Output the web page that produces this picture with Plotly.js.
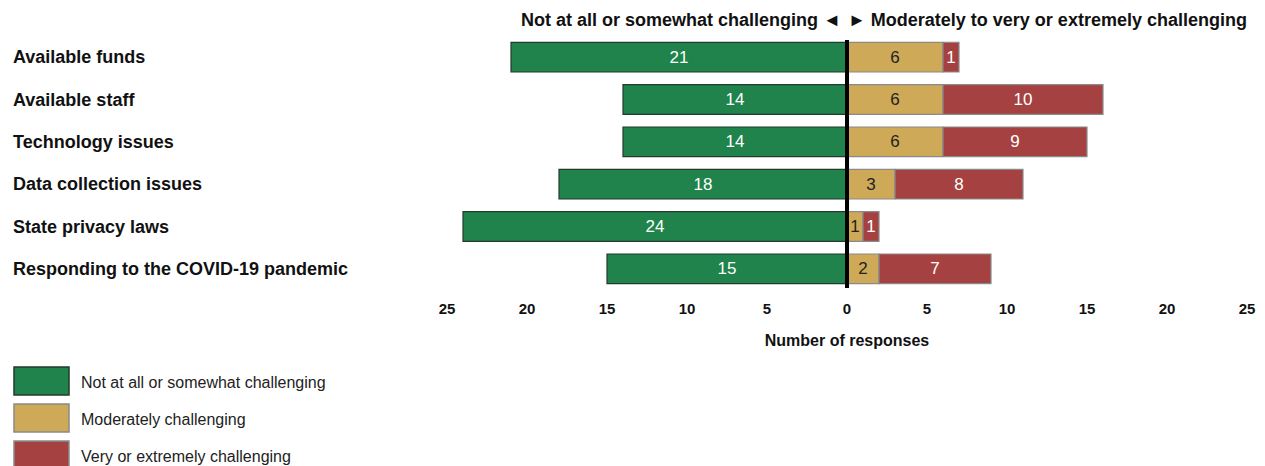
<!DOCTYPE html>
<html>
<head>
<meta charset="utf-8">
<script src="https://cdn.plot.ly/plotly-3.0.1.min.js"></script>
<style>html,body{margin:0;padding:0;background:#fff;}#chart{width:1265px;height:466px;}</style>
</head>
<body>
<div id="chart"></div>
<script>
const categories = ["Available funds", "Available staff", "Technology issues", "Data collection issues", "State privacy laws", "Responding to the COVID-19 pandemic"];
const notChallenging = [21, 14, 14, 18, 24, 15];
const moderately = [6, 6, 6, 3, 1, 2];
const veryExtremely = [1, 10, 9, 8, 1, 7];
const seriesNames = ["Not at all or somewhat challenging", "Moderately challenging", "Very or extremely challenging"];
const tickValues = [-25, -20, -15, -10, -5, 0, 5, 10, 15, 20, 25];
const tickLabels = ["25", "20", "15", "10", "5", "0", "5", "10", "15", "20", "25"];

const colors = ["#1f834b", "#cea957", "#a54241"];
const lineColors = ["#243a2c", "#8a8a8a", "#8a8a8a"];
const textColors = ["#ffffff", "#222222", "#ffffff"];
const narrow = "'Liberation Sans Narrow', 'Arial Narrow', Arial, sans-serif";
const sans = "'Liberation Sans', Arial, sans-serif";

const seriesVals = [notChallenging.map(v => -v), moderately, veryExtremely];
const seriesText = [notChallenging, moderately, veryExtremely];

const traces = seriesVals.map((vals, i) => ({
  type: 'bar', orientation: 'h', name: seriesNames[i],
  y: categories, x: vals,
  text: seriesText[i].map(String), textposition: 'inside', insidetextanchor: 'middle',
  constraintext: 'none', textangle: 0,
  insidetextfont: {family: narrow, size: 17, color: textColors[i]},
  marker: {color: colors[i], line: {color: lineColors[i], width: 1.2}},
  width: 0.7, hoverinfo: 'skip', showlegend: false
}));

const L = 447, R = 18, W = 1265;
const plotW = W - L - R;
const px = x => (x - L) / plotW;
const H = 466, T = 36, B = 176;
const plotH = H - T - B;
const py = y => (H - B - y) / plotH;

const annotations = categories.map(c => ({
  xref: 'paper', yref: 'y', x: px(11), y: c, xanchor: 'left', yanchor: 'middle',
  text: '<b>' + c + '</b>', showarrow: false, align: 'left',
  font: {family: sans, size: 18, color: '#111'}
}));
annotations.push({
  xref: 'x', yref: 'paper', x: 0, y: py(20), xshift: -4, xanchor: 'right', yanchor: 'middle',
  text: '<b>Not at all or somewhat challenging ◄</b>', showarrow: false,
  font: {family: narrow, size: 18, color: '#111'}
});
annotations.push({
  xref: 'x', yref: 'paper', x: 0, y: py(20), xshift: -1, xanchor: 'left', yanchor: 'middle',
  text: '<b>► Moderately to very or extremely challenging</b>', showarrow: false,
  font: {family: narrow, size: 18, color: '#111'}
});

const shapes = [{
  type: 'line', xref: 'x', yref: 'paper', x0: 0, x1: 0, y0: py(288), y1: py(40),
  line: {color: '#000', width: 4}
}];

// legend
const legTops = [367, 404, 441];
legTops.forEach((t, i) => {
  shapes.push({type: 'rect', xref: 'paper', yref: 'paper', x0: px(14), x1: px(69), y0: py(t), y1: py(t + 28),
    fillcolor: colors[i], line: {color: lineColors[i], width: 1.5}});
  annotations.push({xref: 'paper', yref: 'paper', x: px(79), y: py(t + 15), xanchor: 'left', yanchor: 'middle',
    text: seriesNames[i], showarrow: false, font: {family: sans, size: 16, color: '#222'}});
});

const layout = {
  width: W, height: H,
  margin: {l: L, r: R, t: T, b: B},
  barmode: 'relative',
  bargap: 0.3,
  paper_bgcolor: '#fff', plot_bgcolor: '#fff',
  showlegend: false,
  xaxis: {
    range: [-25, 25], tickvals: tickValues, ticktext: tickLabels,
    showgrid: false, zeroline: false, showline: false, ticks: '',
    ticklabelstandoff: 8,
    tickfont: {family: narrow, size: 15, color: '#111', weight: 'bold'},
    title: {text: '<b>Number of responses</b>', font: {family: narrow, size: 16, color: '#111'}, standoff: 18},
    fixedrange: true
  },
  yaxis: {
    type: 'category', autorange: 'reversed', showticklabels: false,
    showgrid: false, zeroline: false, showline: false, ticks: '', fixedrange: true
  },
  annotations: annotations,
  shapes: shapes,
  hovermode: false
};

Plotly.newPlot('chart', traces, layout, {displayModeBar: false, staticPlot: true});
</script>
</body>
</html>
